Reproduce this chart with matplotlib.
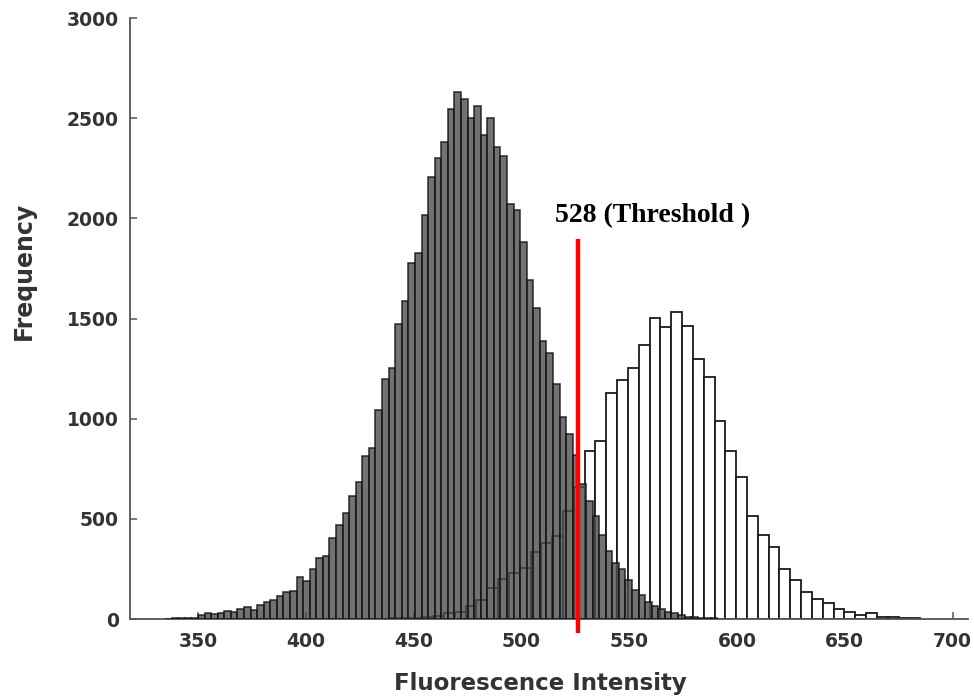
import numpy as np
import matplotlib
matplotlib.use("Agg")
import matplotlib.pyplot as plt

# ---- data ----
dark_counts = [2, 3, 4, 5, 7,
               18, 28, 23, 30, 40, 37, 50, 62, 45, 70, 87, 95, 117, 133, 142,
               208, 192, 250, 303, 317, 403,
               467, 527, 613, 682, 812, 855, 1044, 1199, 1251, 1475, 1587, 1776,
               1828, 2018, 2208, 2303, 2380, 2544, 2630, 2595, 2500, 2561, 2414,
               2500, 2354, 2311, 2070, 2044, 1880, 1690, 1553, 1389, 1329, 1174,
               1010, 923, 820,
               676, 591, 513, 420, 342, 282, 249, 195, 145, 120, 86, 66, 49, 35,
               28, 20, 12, 8, 6, 4, 3]
dark_first_edge = 334.75
dark_bin_width = 3.05

white_counts = [3, 5, 7, 10, 15, 30, 35, 63, 97, 155, 200, 230, 253, 333, 378,
                412, 537, 660, 837, 887, 1128, 1195, 1253, 1367, 1503, 1457,
                1533, 1462, 1300, 1207, 987, 840, 708, 512, 420, 358, 250, 195,
                137, 98, 82, 50, 37, 20, 28, 12, 8, 5, 3]
white_first_edge = 439.0
white_bin_width = 5.02

threshold_line_x = 526.5      # where the red line sits in the picture
threshold_label = "528 (Threshold )"
x_ticks = [350, 400, 450, 500, 550, 600, 650, 700]
y_ticks = [0, 500, 1000, 1500, 2000, 2500, 3000]
x_label = "Fluorescence Intensity"
y_label = "Frequency"

# ---- figure ----
fig = plt.figure(figsize=(9.74, 6.96), dpi=100)
ax = fig.add_axes([0.1335, 0.1106, 0.860, 0.8635])

white_edges = white_first_edge + white_bin_width * np.arange(len(white_counts))
dark_edges = dark_first_edge + dark_bin_width * np.arange(len(dark_counts))

ax.bar(white_edges, white_counts, width=white_bin_width, align='edge',
       facecolor='white', edgecolor='#1a1a1a', linewidth=1.3, zorder=2)
ax.bar(dark_edges, dark_counts, width=dark_bin_width, align='edge',
       facecolor='#4f4f4f', edgecolor='#111111', linewidth=1.2, alpha=0.80,
       zorder=3)

ax.plot([threshold_line_x, threshold_line_x], [-70, 1895], color='#ff0000',
        linewidth=3.2, solid_capstyle='butt', zorder=5, clip_on=False)
ax.text(515.5, 2015, threshold_label, family='Liberation Serif',
        fontweight='bold', fontsize=20, color='black', va='center', ha='left',
        zorder=6)

ax.set_xlim(318.5, 707.0)
ax.set_ylim(0, 3000)
ax.set_xticks(x_ticks)
ax.set_yticks(y_ticks)

for s in ['top', 'right']:
    ax.spines[s].set_visible(False)
for s in ['left', 'bottom']:
    ax.spines[s].set_color('#555555')
    ax.spines[s].set_linewidth(1.3)

ax.tick_params(direction='in', length=5, width=1.1, color='#555555',
               labelcolor='#333333', labelsize=13.5)
ax.tick_params(axis='x', pad=9)
ax.tick_params(axis='y', pad=8)
for lab in ax.get_xticklabels() + ax.get_yticklabels():
    lab.set_fontweight('bold')
    lab.set_family('DejaVu Sans')

ax.set_xlabel(x_label, fontsize=16.5, fontweight='bold', color='#333333',
              family='DejaVu Sans')
ax.set_ylabel(y_label, fontsize=17, fontweight='bold', color='#333333',
              family='DejaVu Sans')
ax.xaxis.set_label_coords(0.49, -0.088)
ax.yaxis.set_label_coords(-0.112, 0.58)

fig.savefig("out.png", dpi=100)
